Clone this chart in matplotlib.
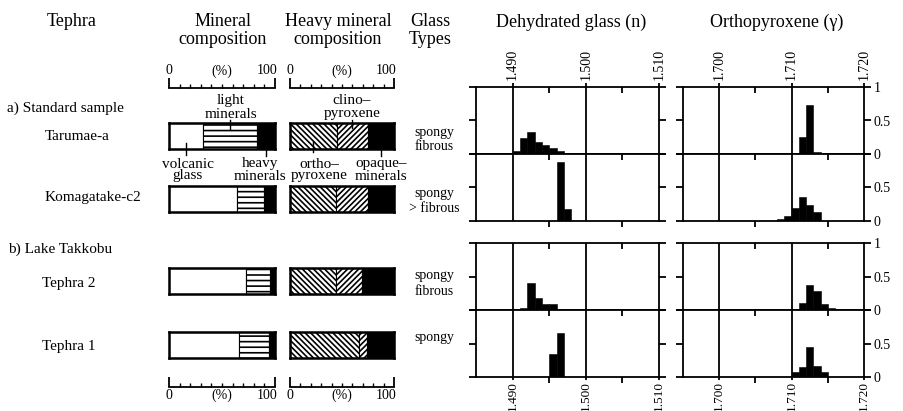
import numpy as np
import matplotlib
matplotlib.use('Agg')
from matplotlib import pyplot as plt
from matplotlib.ticker import FixedLocator, FixedFormatter, FormatStrFormatter
import matplotlib.lines as mlines

plt.rcParams['font.family'] = ['Liberation Serif', 'DejaVu Serif']
plt.rcParams['hatch.linewidth'] = 1.2

# ---- data ----
tephras = ['Tarumae-a', 'Komagatake-c2', 'Tephra 2', 'Tephra 1']
groups = ['a) Standard sample', 'b) Lake Takkobu']
glass_types = [['spongy', 'fibrous'], ['spongy', '> fibrous'], ['spongy', 'fibrous'], ['spongy']]

# mineral composition (%)
volcanic_glass = [32, 64, 73, 66]
light_minerals = [51, 26, 22, 28]
heavy_minerals = [17, 10, 5, 6]

# heavy mineral composition (%)
orthopyroxene = [45, 44, 44, 66]
clinopyroxene = [30, 31, 25, 8]
opaque_minerals = [25, 25, 31, 26]

# refractive index histograms (bin left edge, relative frequency)
bin_w = 0.001
glass_left = [
    [1.490, 1.491, 1.492, 1.493, 1.494, 1.495, 1.496],
    [1.496, 1.497],
    [1.491, 1.492, 1.493, 1.494, 1.495],
    [1.495, 1.496],
]
glass_freq = [
    [0.04, 0.235, 0.325, 0.175, 0.135, 0.09, 0.05],
    [0.885, 0.18],
    [0.03, 0.40, 0.18, 0.09, 0.09],
    [0.34, 0.66],
]
opx_left = [
    [1.711, 1.712, 1.713],
    [1.708, 1.709, 1.710, 1.711, 1.712, 1.713],
    [1.711, 1.712, 1.713, 1.714, 1.715],
    [1.710, 1.711, 1.712, 1.713, 1.714],
]
opx_freq = [
    [0.26, 0.725, 0.035],
    [0.03, 0.07, 0.19, 0.355, 0.24, 0.14],
    [0.10, 0.375, 0.28, 0.09, 0.025],
    [0.075, 0.15, 0.445, 0.17, 0.075],
]
glass_ticks = [1.490, 1.500, 1.510]
opx_ticks = [1.700, 1.710, 1.720]

# ---- layout (pixels) ----
W, H = 904, 411
fig = plt.figure(figsize=(W / 100, H / 100), dpi=100)


def box(x0, y0, x1, y1):
    return fig.add_axes([x0 / W, 1 - y1 / H, (x1 - x0) / W, (y1 - y0) / H])


def ftext(x, y, s, size=11, ha='center'):
    fig.text(x / W, 1 - y / H, s, fontsize=size, ha=ha, va='center')


bar_top = [123, 186, 268, 332]
bar_h = 26
min_x = (169, 275)
hvy_x = (290, 394)
hist_rows = [(87, 154), (154, 221), (243, 310), (310, 377)]
glass_x = (476, 659)
opx_x = (683, 864)
lw = 1.3

# headings
ftext(72, 22, 'Tephra', 13)
ftext(223, 22, 'Mineral', 13)
ftext(223, 40, 'composition', 13)
ftext(338, 22, 'Heavy mineral', 13)
ftext(338, 40, 'composition', 13)
ftext(430, 22, 'Glass', 13)
ftext(430, 40, 'Types', 13)
ftext(571, 22, 'Dehydrated glass (n)', 13)
ftext(777, 22, 'Orthopyroxene (\u03b3)', 13)

ftext(7, 108, groups[0], 11, 'left')
ftext(8, 249, groups[1], 11, 'left')
label_y = [136, 197, 283, 346]
label_x = [45, 45, 42, 42]
for i, name in enumerate(tephras):
    ftext(label_x[i], label_y[i], name, 11, 'left')

type_y = [(132, 147), (193, 208), (275, 291), (337,)]
for i, lines in enumerate(glass_types):
    for s, yy in zip(lines, type_y[i]):
        ftext(434, yy, s, 10)


# percentage scales
def scale_axis(x0, x1, ybase, top):
    ax = box(x0, ybase - 20, x1, ybase)
    ly = 17 / 20 if top else -8 / 20
    ax.set_xlim(0, 100)
    ax.set_ylim(0, 1)
    ax.patch.set_visible(False)
    for s in ['top', 'left', 'right']:
        ax.spines[s].set_visible(False)
    ax.spines['bottom'].set_linewidth(lw)
    ax.set_yticks([])
    ax.xaxis.set_major_locator(FixedLocator([0, 100]))
    ax.xaxis.set_minor_locator(FixedLocator(np.arange(10, 100, 10)))
    ax.tick_params(axis='x', which='major', direction='in', length=7, width=lw, labelbottom=False)
    ax.tick_params(axis='x', which='minor', direction='in', length=3, width=1.0)
    tr = ax.get_xaxis_transform()
    ax.text(0, ly, '0', transform=tr, ha='center', va='center', fontsize=10)
    ax.text(50, ly, '(%)', transform=tr, ha='center', va='center', fontsize=10)
    ax.text(102, ly, '100', transform=tr, ha='right', va='center', fontsize=10)


for xs in (min_x, hvy_x):
    scale_axis(xs[0], xs[1], 88, True)
    scale_axis(xs[0], xs[1], 387, False)


def comp_bar(ax, vals, colors, hatches):
    left = 0
    mids = []
    for v, c, h in zip(vals, colors, hatches):
        ax.barh(0, v, left=left, height=1, color=c, hatch=h, edgecolor='black',
                linewidth=0.8, clip_on=False)
        mids.append(left + v / 2)
        left += v
    ax.set_xlim(0, 100)
    ax.set_ylim(-0.5, 0.5)
    ax.set_xticks([])
    ax.set_yticks([])
    for s in ax.spines.values():
        s.set_linewidth(1.8)
    return mids


for i in range(len(tephras)):
    t = bar_top[i]
    ax1 = box(min_x[0], t, min_x[1], t + bar_h)
    m1 = comp_bar(ax1, [volcanic_glass[i], light_minerals[i], heavy_minerals[i]],
                  ['white', 'white', 'black'], ['', '---', ''])
    ax2 = box(hvy_x[0], t, hvy_x[1], t + bar_h)
    m2 = comp_bar(ax2, [orthopyroxene[i], clinopyroxene[i], opaque_minerals[i]],
                  ['white', 'white', 'black'], ['\\' * 6, '/' * 6, ''])
    if i == 0:
        tr1 = ax1.get_xaxis_transform()
        tr2 = ax2.get_xaxis_transform()
        ax1.plot([m1[1], m1[1]], [0.77, 1.12], color='black', lw=1.0, transform=tr1, clip_on=False)
        ax1.plot([m1[0], m1[0]], [0.23, -0.23], color='black', lw=1.0, transform=tr1, clip_on=False)
        ax1.plot([m1[2], m1[2]], [0.3, -0.27], color='black', lw=1.0, transform=tr1, clip_on=False)
        ax2.plot([m2[1], m2[1]], [0.8, 1.12], color='black', lw=1.0, transform=tr2, clip_on=False)
        ax2.plot([m2[0], m2[0]], [0.27, -0.12], color='black', lw=1.0, transform=tr2, clip_on=False)
        ax2.plot([m2[2], m2[2]], [0.3, -0.27], color='black', lw=1.0, transform=tr2, clip_on=False)
        ftext(231, 100, 'light', 11)
        ftext(231, 114, 'minerals', 11)
        ftext(352, 100, 'clino\u2013', 11)
        ftext(352, 114, 'pyroxene', 11)
        ftext(188, 164, 'volcanic', 11)
        ftext(188, 176, 'glass', 11)
        ftext(260, 164, 'heavy', 11)
        ftext(260, 176, 'minerals', 11)
        ftext(319, 164, 'ortho\u2013', 11)
        ftext(319, 176, 'pyroxene', 11)
        ftext(381, 164, 'opaque\u2013', 11)
        ftext(381, 176, 'minerals', 11)


def hist_panel(ax, lefts, freqs, ticks, row, right_labels):
    ax.bar(lefts, freqs, width=bin_w, align='edge', color='black', edgecolor='black', linewidth=0.4)
    for m in ticks[:2]:
        ax.axvline(m, color='black', lw=lw, zorder=0)
    ax.set_xlim(ticks[0] - 0.005, ticks[-1])
    ax.set_ylim(0, 1)
    for s in ax.spines.values():
        s.set_linewidth(lw)
    ax.xaxis.set_major_locator(FixedLocator(ticks))
    ax.xaxis.set_minor_locator(FixedLocator([ticks[0] + 0.005, ticks[1] + 0.005]))
    ax.xaxis.set_major_formatter(FormatStrFormatter('%.3f'))
    is_top = row in (0, 2)
    if row == 0:
        ax.tick_params(axis='x', which='major', top=True, bottom=False, labeltop=True,
                       labelbottom=False, direction='out', length=3, width=lw,
                       labelrotation=90, labelsize=10, pad=2)
    elif row == 3:
        ax.tick_params(axis='x', which='major', top=False, bottom=True, labeltop=False,
                       labelbottom=True, direction='out', length=2, width=lw,
                       labelrotation=90, labelsize=9.5, pad=1)
    else:
        ax.tick_params(axis='x', which='major', length=0, labelbottom=False, labeltop=False)
    ax.tick_params(axis='x', which='minor', top=True, bottom=not is_top,
                   direction='in', length=4, width=lw)
    if not is_top:
        for tk in ax.xaxis.get_minor_ticks():
            tk.tick1line.set_marker(mlines.TICKDOWN)
    ax.yaxis.set_major_locator(FixedLocator([0, 0.5, 1]))
    if is_top:
        ax.yaxis.set_major_formatter(FixedFormatter(['0', '0.5', '1']))
    else:
        ax.yaxis.set_major_formatter(FixedFormatter(['0', '0.5', '']))
    ax.tick_params(axis='y', left=True, right=True, direction='out', length=5, width=lw,
                   labelleft=False, labelright=right_labels, labelsize=10, pad=2)


for r, (y0, y1) in enumerate(hist_rows):
    axg = box(glass_x[0], y0, glass_x[1], y1)
    hist_panel(axg, glass_left[r], glass_freq[r], glass_ticks, r, False)
    axo = box(opx_x[0], y0, opx_x[1], y1)
    hist_panel(axo, opx_left[r], opx_freq[r], opx_ticks, r, True)

fig.savefig('out.png', dpi=100)
